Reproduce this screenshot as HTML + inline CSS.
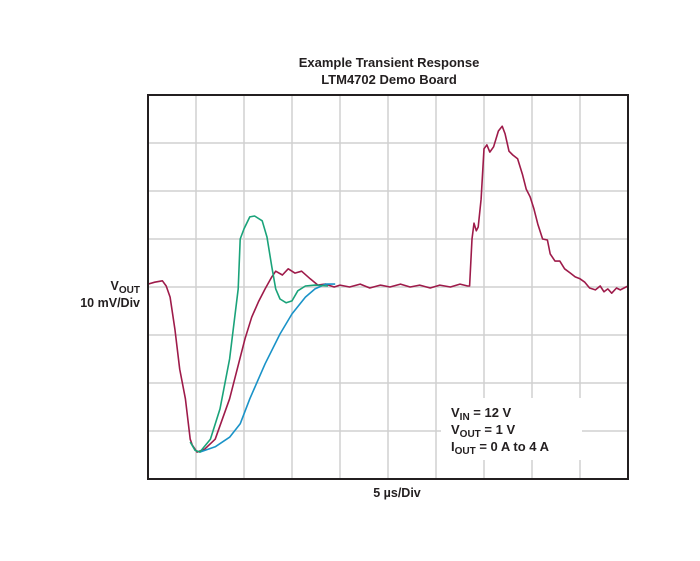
<!DOCTYPE html>
<html><head><meta charset="utf-8"><style>
body{margin:0;background:#fff;width:700px;height:556px;overflow:hidden}
svg text{font-family:"Liberation Sans",sans-serif;font-weight:bold;fill:#231f20}
</style></head><body>
<svg id="c" width="700" height="556">
<g id="grid"></g>
<g id="series"></g>
<rect x="441" y="398" width="141" height="62" fill="#fff"/>
<rect x="148" y="95" width="480" height="384" fill="none" stroke="#231f20" stroke-width="2"/>
<text x="389" y="67" font-size="13" text-anchor="middle">Example Transient Response</text>
<text x="389" y="84" font-size="13" text-anchor="middle">LTM4702 Demo Board</text>
<text x="140" y="290" font-size="12.5" text-anchor="end">V<tspan font-size="10" dy="3">OUT</tspan></text>
<text x="140" y="307" font-size="12.5" text-anchor="end">10 mV/Div</text>
<text x="397" y="497" font-size="12.5" text-anchor="middle">5 µs/Div</text>
<g>
<text x="451" y="417" font-size="13">V<tspan font-size="10" dy="3">IN</tspan><tspan dy="-3"> = 12 V</tspan></text>
<text x="451" y="434" font-size="13">V<tspan font-size="10" dy="3">OUT</tspan><tspan dy="-3"> = 1 V</tspan></text>
<text x="451" y="451" font-size="13">I<tspan font-size="10" dy="3">OUT</tspan><tspan dy="-3"> = 0 A to 4 A</tspan></text>
</g>
</svg>
<script>
const redTime=[0,0.7,1.5,1.9,2.3,2.8,3.3,3.9,4.4,4.6,5.1,5.9,7.0,8.5,10.1,10.8,11.5,12.2,12.9,13.3,14.0,14.6,15.3,16.0,16.9,17.7,18.5,19.4,20,21.0,22.1,23.1,24.2,25.2,26.3,27.3,28.3,29.4,30.4,31.5,32.5,33.3,33.5,33.75,33.96,34.2,34.4,34.7,35,35.3,35.6,36.0,36.5,36.9,37.2,37.6,38.0,38.5,39.0,39.4,39.8,40.2,40.6,41.1,41.6,41.9,42.4,42.9,43.4,44.0,44.5,45.0,45.5,46.0,46.6,47.1,47.5,47.9,48.3,48.8,49.2,50];
const redMv=[0.6,1.0,1.3,0.2,-2.1,-8.8,-17.1,-23.3,-31.7,-32.9,-34.4,-33.8,-31.7,-23.3,-10.8,-6.3,-3.1,-0.4,2.1,3.3,2.5,3.8,2.9,3.3,1.7,0.4,0.6,0,0.4,0,0.6,-0.2,0.4,0,0.6,0,0.4,-0.2,0.4,0,0.6,0.2,0.2,10,13.3,11.7,12.5,18.3,28.8,29.6,28.1,29.2,32.5,33.5,31.9,28.3,27.5,26.7,23.5,20.4,18.8,16.3,13.1,10,9.8,6.9,5.4,5.4,3.8,2.9,2.1,1.7,1.0,-0.2,-0.6,0.2,-1.0,-0.4,-1.3,-0.2,-0.6,0.2];
const greenTime=[4.4,4.9,5.4,6.5,7.5,8.5,9.4,9.6,10,10.6,11.1,11.9,12.4,12.9,13.3,13.75,14.4,15,15.6,16.4,17.4,18.75];
const greenMv=[-32.3,-34,-34.4,-31.7,-25.4,-15,-0.4,10,12.1,14.6,14.8,13.8,10.4,4.2,-0.4,-2.5,-3.3,-2.9,-0.8,0.2,0.4,0.2];
const blueTime=[5.4,7,8.5,9.6,10.6,12.2,13.75,15,16.4,17.4,18.5,19.5];
const blueMv=[-34.4,-33.3,-31.3,-28.5,-23.3,-16,-9.8,-5.6,-2.1,-0.4,0.6,0.6];
const X0=148,X1=628,Y0=95,Y1=479;
const xs=t=>X0+t/50*(X1-X0);
const ys=v=>Y0+(40-v)/80*(Y1-Y0);
const NS="http://www.w3.org/2000/svg";
const grid=document.getElementById('grid');
for(let i=1;i<10;i++){const l=document.createElementNS(NS,'line');
l.setAttribute('x1',xs(i*5));l.setAttribute('x2',xs(i*5));l.setAttribute('y1',Y0);l.setAttribute('y2',Y1);
l.setAttribute('stroke','#d0d0d0');l.setAttribute('stroke-width','1.5');


grid.appendChild(l);}
for(let i=1;i<8;i++){const l=document.createElementNS(NS,'line');
l.setAttribute('y1',ys(40-i*10));l.setAttribute('y2',ys(40-i*10));l.setAttribute('x1',X0);l.setAttribute('x2',X1);
l.setAttribute('stroke','#d0d0d0');l.setAttribute('stroke-width','1.5');


grid.appendChild(l);}
const ser=document.getElementById('series');
function draw(t,v,color,name){const p=document.createElementNS(NS,'polyline');
p.setAttribute('points',t.map((x,i)=>xs(x).toFixed(1)+','+ys(v[i]).toFixed(1)).join(' '));
p.setAttribute('fill','none');p.setAttribute('stroke',color);p.setAttribute('stroke-width','1.6');p.setAttribute('stroke-linejoin','round');


ser.appendChild(p);}
draw(redTime,redMv,'#9e1b4a','vout-trace-red');
draw(blueTime,blueMv,'#1a93c8','vout-trace-blue');
draw(greenTime,greenMv,'#1aa37a','vout-trace-green');
</script>
</body></html>
